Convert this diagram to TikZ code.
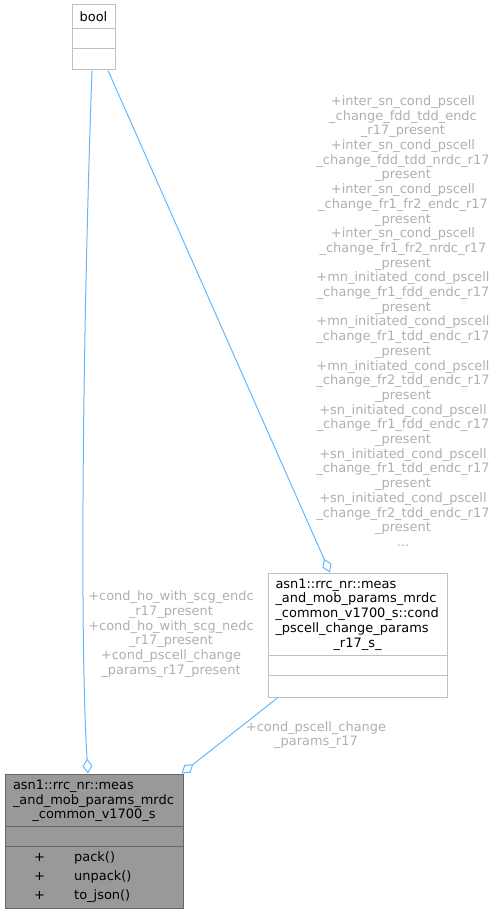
\documentclass[tikz,border=0pt]{standalone}
\usepackage{fontspec}
\setmainfont{DejaVu Sans}
\usetikzlibrary{arrows.meta}
\definecolor{edgeblue}{RGB}{99,184,255}
\definecolor{labelgrey}{RGB}{175,175,175}
\definecolor{boxgrey}{RGB}{191,191,191}
\definecolor{mainfill}{RGB}{153,153,153}
\definecolor{mainline}{RGB}{102,102,102}

\begin{document}
\begin{tikzpicture}[x=1pt, y=-1pt,
  box/.style={draw=boxgrey, fill=white, line width=1pt, inner sep=0pt},
  mainbox/.style={box, draw=mainline, fill=mainfill},
  divider/.style={draw=#1, line width=1pt},
  txt/.style={font=\fontsize{12.95}{14.7}\selectfont, inner sep=0pt},
  lbl/.style={txt, text=labelgrey, align=center},
  member/.style={draw=edgeblue, line width=1pt, -{Diamond[open, length=15pt, width=10pt]}}]
\useasboundingbox (0,0) rectangle (502,915);

\node [box, minimum width=43pt, minimum height=65pt] (bool) at (93.5,37.5) {};
\node [txt] (booltitle) at (93.5,17) {bool};
\draw [divider=boxgrey] ([yshift=-24pt]bool.north west) -- ([yshift=-24pt]bool.north east);
\draw [divider=boxgrey] ([yshift=-44pt]bool.north west) -- ([yshift=-44pt]bool.north east);

\node [box, minimum width=179pt, minimum height=124pt] (params) at (357.5,635) {};
\node [txt, text width=164pt, align=left] (paramstitle) at (357.5,614.5)
  {asn1::rrc\_nr::meas\\\_and\_mob\_params\_mrdc\\\_common\_v1700\_s::cond\\\_pscell\_change\_params\\\hfill\_r17\_s\_\hfill\null};
\draw [divider=boxgrey] ([yshift=-83pt]params.north west) -- ([yshift=-83pt]params.north east);
\draw [divider=boxgrey] ([yshift=-103pt]params.north west) -- ([yshift=-103pt]params.north east);

\node [mainbox, minimum width=178pt, minimum height=134pt] (main) at (94,841) {};
\node [txt, text width=162pt, align=left] (maintitle) at (94,801)
  {asn1::rrc\_nr::meas\\\_and\_mob\_params\_mrdc\\\hfill\_common\_v1700\_s\hfill\null};
\draw [divider=mainline] ([yshift=-53pt]main.north west) -- ([yshift=-53pt]main.north east);
\draw [divider=mainline] ([yshift=-73pt]main.north west) -- ([yshift=-73pt]main.north east);
\foreach \m [count=\i] in {pack(), unpack(), to\_json()} {
  \node [txt, anchor=base] (plus\i) at (39.5,{861.3+19.3*(\i-1)}) {+};
  \node [txt, anchor=base west] (method\i) at (74,{861.3+19.3*(\i-1)}) {\m};
}

\node [lbl] (hoflags) at (171,634)
  {+cond\_ho\_with\_scg\_endc\\\_r17\_present\\+cond\_ho\_with\_scg\_nedc\\\_r17\_present\\+cond\_pscell\_change\\\_params\_r17\_present};
\node [lbl] (paramslabel) at (316,735) {+cond\_pscell\_change\\\_params\_r17};
\node [lbl] (presentflags) at (403,321)
  {+inter\_sn\_cond\_pscell\\\_change\_fdd\_tdd\_endc\\\_r17\_present\\
   +inter\_sn\_cond\_pscell\\\_change\_fdd\_tdd\_nrdc\_r17\\\_present\\
   +inter\_sn\_cond\_pscell\\\_change\_fr1\_fr2\_endc\_r17\\\_present\\
   +inter\_sn\_cond\_pscell\\\_change\_fr1\_fr2\_nrdc\_r17\\\_present\\
   +mn\_initiated\_cond\_pscell\\\_change\_fr1\_fdd\_endc\_r17\\\_present\\
   +mn\_initiated\_cond\_pscell\\\_change\_fr1\_tdd\_endc\_r17\\\_present\\
   +mn\_initiated\_cond\_pscell\\\_change\_fr2\_tdd\_endc\_r17\\\_present\\
   +sn\_initiated\_cond\_pscell\\\_change\_fr1\_fdd\_endc\_r17\\\_present\\
   +sn\_initiated\_cond\_pscell\\\_change\_fr1\_tdd\_endc\_r17\\\_present\\
   +sn\_initiated\_cond\_pscell\\\_change\_fr2\_tdd\_endc\_r17\\\_present\\
   ...};

\draw [member] ([xshift=-1.5pt]bool.south) .. controls (82,350) and (80,650) .. ([xshift=-6pt]main.north);
\draw [member] ([xshift=14.5pt]bool.south) -- ([xshift=-27.5pt]params.north);
\draw [member] ([xshift=-79.5pt]params.south) -- ([xshift=-2pt]main.north east);
\end{tikzpicture}
\end{document}
